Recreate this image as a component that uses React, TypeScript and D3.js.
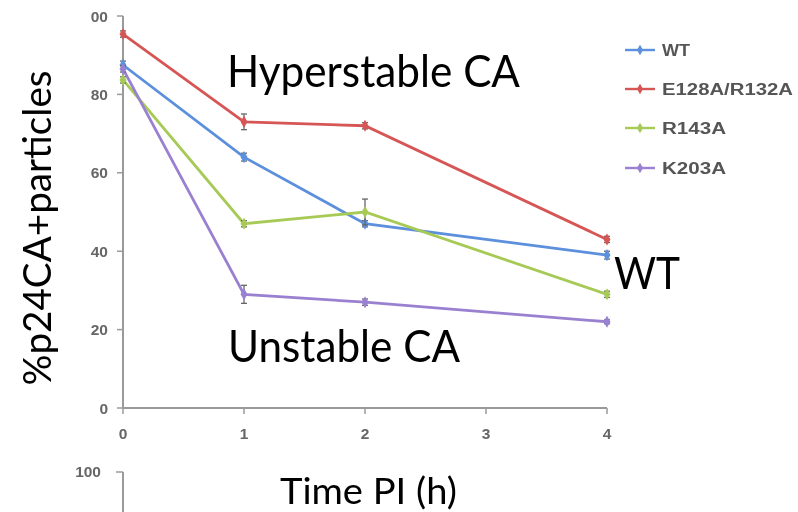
import * as d3 from "d3";

const times = [0, 1, 2, 4];
const xTicks = [0, 1, 2, 3, 4];
const yTicks = [0, 20, 40, 60, 80, 100];

const seriesNames = ["WT", "E128A/R132A", "R143A", "K203A"];
const seriesColors = ["#5b8fdc", "#d65555", "#a6ca55", "#9a80d0"];

const wtValues = [87.5, 64, 47, 39];
const e128aValues = [95.4, 73, 72, 43];
const r143aValues = [83.7, 47, 50, 29];
const k203aValues = [86.5, 29, 27, 22];

const wtErrors = [1, 1, 0.8, 1];
const e128aErrors = [0.8, 2, 0.8, 0.8];
const r143aErrors = [0.8, 0.8, 3.3, 0.8];
const k203aErrors = [0.8, 2.3, 0.8, 0.5];

const allValues = [wtValues, e128aValues, r143aValues, k203aValues];
const allErrors = [wtErrors, e128aErrors, r143aErrors, k203aErrors];

const legendWidths: Record<string, number> = {
  WT: 28,
  "E128A/R132A": 131,
  R143A: 64,
  K203A: 64,
};

const width = 798;
const height = 512;
const tickFont = "Liberation Sans, Arial, sans-serif";

export default function App() {
  const xScale = d3.scaleLinear().domain([0, 4]).range([123, 607]);
  const yScale = d3.scaleLinear().domain([0, 100]).range([408, 16]);

  const line = d3
    .line<number>()
    .x((_, i) => xScale(times[i]))
    .y((v) => yScale(v));

  const diamond = d3.symbol().type(d3.symbolDiamond).size(42)();
  const legendDiamond = d3.symbol().type(d3.symbolDiamond).size(32)();

  const legendY = [50, 89, 128, 168];

  return (
    <svg
      width={width}
      height={height}
      viewBox={`0 0 ${width} ${height}`}
      style={{ position: "absolute", left: 0, top: 0, background: "#fff" }}
    >
      <defs>
        <filter id="soft" x="-5%" y="-5%" width="110%" height="110%">
          <feGaussianBlur stdDeviation="0.75" />
        </filter>
      </defs>
      <rect width={width} height={height} fill="#fff" />

      <g filter="url(#soft)">
        {/* axes */}
        <line x1={123} x2={123} y1={yScale(100)} y2={yScale(0)} stroke="#9a9a9a" strokeWidth={2} />
        <line x1={123} x2={xScale(4)} y1={yScale(0)} y2={yScale(0)} stroke="#9a9a9a" strokeWidth={2} />
        {yTicks.map((t) => (
          <g key={`y${t}`}>
            <line x1={117} x2={123} y1={yScale(t)} y2={yScale(t)} stroke="#9a9a9a" strokeWidth={1.5} />
            <text
              x={108}
              y={yScale(t) + 5.5}
              textAnchor="end"
              fontFamily={tickFont}
              fontWeight="bold"
              fontSize={15.5}
              fill="#666"
            >
              {t}
            </text>
          </g>
        ))}
        {xTicks.map((t) => (
          <g key={`x${t}`}>
            <line x1={xScale(t)} x2={xScale(t)} y1={408} y2={414} stroke="#9a9a9a" strokeWidth={1.5} />
            <text
              x={xScale(t)}
              y={439}
              textAnchor="middle"
              fontFamily={tickFont}
              fontWeight="bold"
              fontSize={15.5}
              fill="#666"
            >
              {t}
            </text>
          </g>
        ))}

        {/* series */}
        {allValues.map((vals, s) => (
          <g key={seriesNames[s]}>
            <path d={line(vals) ?? ""} fill="none" stroke={seriesColors[s]} strokeWidth={2.8} />
            {vals.map((v, i) => {
              const cx = xScale(times[i]);
              const e = allErrors[s][i];
              return (
                <g key={i}>
                  <line x1={cx} x2={cx} y1={yScale(v + e)} y2={yScale(v - e)} stroke="#666" strokeWidth={1.3} />
                  <line x1={cx - 3} x2={cx + 3} y1={yScale(v + e)} y2={yScale(v + e)} stroke="#666" strokeWidth={1.3} />
                  <line x1={cx - 3} x2={cx + 3} y1={yScale(v - e)} y2={yScale(v - e)} stroke="#666" strokeWidth={1.3} />
                  <path d={diamond ?? ""} transform={`translate(${cx},${yScale(v)})`} fill={seriesColors[s]} />
                </g>
              );
            })}
          </g>
        ))}

        {/* legend */}
        {seriesNames.map((name, i) => (
          <g key={`lg${name}`} transform={`translate(0,${legendY[i]})`}>
            <line x1={625} x2={655} y1={0} y2={0} stroke={seriesColors[i]} strokeWidth={2.4} />
            <path d={legendDiamond ?? ""} transform="translate(640,0)" fill={seriesColors[i]} />
            <text
              x={662}
              y={6}
              fontFamily={tickFont}
              fontWeight="bold"
              fontSize={16}
              fill="#555"
              textLength={legendWidths[name]}
              lengthAdjust="spacingAndGlyphs"
            >
              {name}
            </text>
          </g>
        ))}

        {/* fragment of the next panel below */}
        <text
          x={101}
          y={477}
          textAnchor="end"
          fontFamily={tickFont}
          fontWeight="bold"
          fontSize={15.5}
          fill="#666"
        >
          100
        </text>
        <line x1={116} x2={123} y1={472} y2={472} stroke="#9a9a9a" strokeWidth={1.5} />
        <line x1={123} x2={123} y1={472} y2={512} stroke="#9a9a9a" strokeWidth={2} />
      </g>

      {/* crop edge hiding the leading "1" of the top label */}
      <rect x={0} y={0} width={91} height={30} fill="#fff" />

      {/* annotations */}
      <g fontFamily="Lato, 'Open Sans', sans-serif" fill="#000">
        <text x={227} y={87} fontSize={44} textLength={293} lengthAdjust="spacingAndGlyphs">
          Hyperstable CA
        </text>
        <text x={228} y={362} fontSize={44} textLength={232} lengthAdjust="spacingAndGlyphs">
          Unstable CA
        </text>
        <text x={614} y={289} fontSize={44} textLength={66} lengthAdjust="spacingAndGlyphs">
          WT
        </text>
        <text x={280} y={504} fontSize={37} textLength={177} lengthAdjust="spacingAndGlyphs">
          Time PI (h)
        </text>
        <text
          transform="translate(51,228) rotate(-90)"
          textAnchor="middle"
          fontSize={39}
          textLength={315}
          lengthAdjust="spacingAndGlyphs"
        >
          %p24CA+particles
        </text>
      </g>
    </svg>
  );
}
